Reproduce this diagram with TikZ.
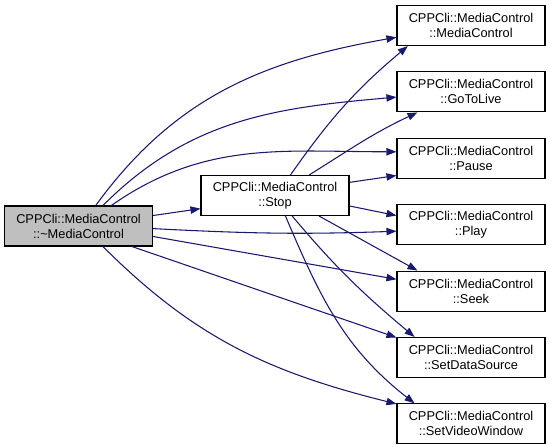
\documentclass[tikz,border=0pt]{standalone}
\usepackage{fontspec}
\setmainfont{Liberation Sans}
\usepackage{xcolor}
\usetikzlibrary{arrows.meta, positioning}
\definecolor{edgeblue}{HTML}{191970}
\definecolor{curgray}{HTML}{BFBFBF}

\begin{document}
\begin{tikzpicture}[
        x=0.75pt, y=0.75pt,
        node distance=19pt and 36pt,
        >={Triangle[length=7.5pt, width=5.5pt]},
        fn/.style={draw, line width=0.8pt, fill=white, minimum width=111pt, minimum height=30pt, inner sep=0pt, align=center, font=\fontsize{9.6}{11.25}\selectfont},
        cur/.style={fn, fill=curgray},
        call/.style={->, draw=edgeblue, line width=0.8pt},
    ]
    \useasboundingbox (0,0) rectangle (551,-444);

    % ── Caller and Stop ──
    \node[cur] (dtor) at (78.5,-226) {CPPCli::MediaControl\\::\textasciitilde MediaControl};
    \node[fn] (stop) at (275,-195.5) {CPPCli::MediaControl\\::Stop};

    % ── Callees (right column) ──
    \node[fn] (ctor) at (471,-25.5) {CPPCli::MediaControl\\::MediaControl};
    \node[fn, below=of ctor] (live) {CPPCli::MediaControl\\::GoToLive};
    \node[fn, below=of live] (pause) {CPPCli::MediaControl\\::Pause};
    \node[fn, below=of pause] (play) {CPPCli::MediaControl\\::Play};
    \node[fn, below=of play] (seek) {CPPCli::MediaControl\\::Seek};
    \node[fn, below=of seek] (sds) {CPPCli::MediaControl\\::SetDataSource};
    \node[fn, below=of sds] (svw) {CPPCli::MediaControl\\::SetVideoWindow};

    % ── Calls from ~MediaControl ──
    \draw[call] (dtor.50) to[out=54, in=190] (ctor.189);
    \draw[call] (dtor.40) to[out=45, in=185] (live.184);
    \draw[call] (dtor.32) to[out=35, in=180] (pause.175);
    \draw[call] (dtor.8) -- (stop.190);
    \draw[call] (dtor.-2) to[out=-3, in=182] (play.185);
    \draw[call] (dtor.-8) -- (seek.171);
    \draw[call] (dtor.-21) -- (sds.165);
    \draw[call] (dtor.-40) to[out=-45, in=166] (svw.165);

    % ── Calls from Stop ──
    \draw[call] (stop.53) to[out=55, in=220] (ctor.198);
    \draw[call] (stop.31) to[out=32, in=205] (live.201);
    \draw[call] (stop.10) -- (pause.193);
    \draw[call] (stop.-8) -- (play.173);
    \draw[call] (stop.-25) -- (seek.159);
    \draw[call] (stop.-50) to[out=-50, in=140] (sds.160);
    \draw[call] (stop.-63) to[out=-67, in=142] (svw.160);

\end{tikzpicture}
\end{document}
